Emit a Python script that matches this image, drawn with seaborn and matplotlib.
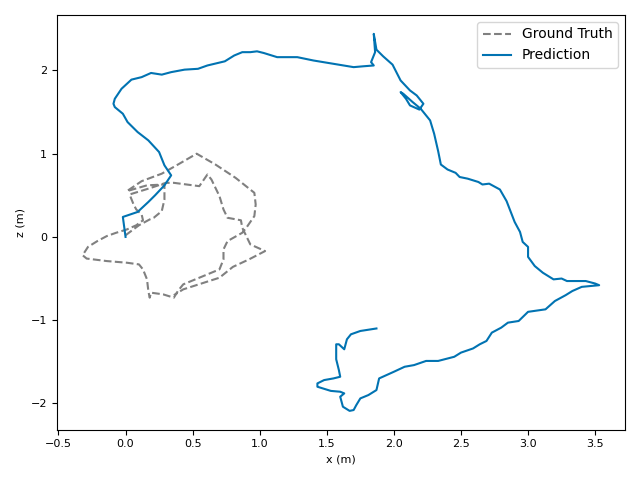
import matplotlib
matplotlib.use("Agg")
import matplotlib.pyplot as plt
import seaborn as sns
import pandas as pd

# ground truth trajectory (x, z) in metres
gt_x = [0.00, 0.10, 0.18, 0.21, 0.27, 0.29, 0.29, 0.16, 0.01, 0.12, 0.27, 0.38,
        0.53, 0.67, 0.82, 0.96, 0.97, 0.96, 0.90, 0.87, 0.76, 0.73, 0.73, 0.70,
        0.43, 0.39, 0.36, 0.28, 0.19, 0.18, 0.17, 0.16, 0.13, 0.10, 0.01, -0.14,
        -0.29, -0.32, -0.28, -0.21, -0.14, -0.07, 0.01, 0.08, 0.13, 0.12, 0.08,
        0.06, 0.03, 0.19, 0.30, 0.36, 0.55, 0.61, 0.64, 0.70, 0.73, 0.76, 0.86,
        0.87, 0.90, 0.93, 1.04, 0.92, 0.80, 0.70, 0.43, 0.36]
gt_z = [0.02, 0.14, 0.21, 0.23, 0.31, 0.45, 0.63, 0.62, 0.55, 0.67, 0.76, 0.86,
        1.00, 0.87, 0.71, 0.53, 0.39, 0.25, 0.11, 0.05, -0.05, -0.15, -0.27, -0.39,
        -0.57, -0.65, -0.73, -0.69, -0.67, -0.73, -0.65, -0.51, -0.39, -0.33, -0.31, -0.29,
        -0.26, -0.22, -0.12, -0.05, 0.01, 0.05, 0.09, 0.14, 0.20, 0.27, 0.33,
        0.39, 0.51, 0.59, 0.65, 0.65, 0.61, 0.75, 0.69, 0.49, 0.33, 0.23, 0.20,
        0.11, 0.01, -0.09, -0.17, -0.27, -0.36, -0.49, -0.63, -0.70]

# predicted trajectory (x, z) in metres
pred_x = [0.00, -0.02, 0.09, 0.17, 0.22, 0.29, 0.34, 0.29, 0.25, 0.17, 0.09, 0.015,
          -0.02, -0.08, -0.09, -0.08, -0.03, 0.044, 0.12, 0.19, 0.27, 0.34, 0.44,
          0.54, 0.61, 0.74, 0.81, 0.87, 0.93, 0.98, 1.03, 1.13, 1.28, 1.40, 1.55,
          1.70, 1.77, 1.85, 1.83, 1.86, 1.85, 1.87, 1.92, 1.99, 2.05, 2.12, 2.17,
          2.22, 2.19, 2.12, 2.09, 2.05, 2.07, 2.14, 2.20, 2.27, 2.30, 2.33, 2.35,
          2.40, 2.46, 2.49, 2.55, 2.63, 2.66, 2.71, 2.79, 2.84, 2.90, 2.94, 2.96,
          3.00, 3.00, 3.05, 3.11, 3.19, 3.25, 3.29, 3.43, 3.50, 3.53, 3.40, 3.33,
          3.28, 3.20, 3.13, 3.00, 2.93, 2.85, 2.80, 2.73, 2.69, 2.64, 2.59, 2.50,
          2.45, 2.33, 2.24, 2.15, 2.08, 2.00, 1.89, 1.87, 1.81, 1.75, 1.72, 1.70,
          1.67, 1.62, 1.60, 1.63, 1.60, 1.53, 1.43, 1.43, 1.48, 1.55, 1.60, 1.59,
          1.57, 1.57, 1.59, 1.63, 1.65, 1.68, 1.75, 1.83, 1.87]
pred_z = [0.00, 0.24, 0.30, 0.42, 0.50, 0.62, 0.74, 0.86, 1.02, 1.16, 1.26, 1.38,
          1.48, 1.56, 1.60, 1.66, 1.78, 1.89, 1.92, 1.97, 1.95, 1.98, 2.01,
          2.02, 2.06, 2.11, 2.18, 2.22, 2.22, 2.23, 2.21, 2.16, 2.16, 2.12, 2.08,
          2.04, 2.05, 2.06, 2.10, 2.22, 2.44, 2.25, 2.17, 2.07, 1.88, 1.76, 1.70,
          1.60, 1.53, 1.58, 1.66, 1.74, 1.72, 1.62, 1.54, 1.40, 1.24, 1.03, 0.87,
          0.81, 0.77, 0.72, 0.70, 0.66, 0.63, 0.64, 0.57, 0.43, 0.18, 0.06, -0.06,
          -0.12, -0.24, -0.35, -0.43, -0.51, -0.50, -0.53, -0.53, -0.56, -0.58, -0.60, -0.65,
          -0.70, -0.77, -0.87, -0.90, -1.01, -1.03, -1.09, -1.15, -1.25, -1.29, -1.34, -1.39,
          -1.44, -1.49, -1.49, -1.54, -1.56, -1.62, -1.70, -1.84, -1.90, -1.94, -2.02, -2.08,
          -2.09, -2.04, -1.92, -1.88, -1.86, -1.85, -1.80, -1.76, -1.72, -1.70, -1.68, -1.60,
          -1.47, -1.29, -1.29, -1.35, -1.23, -1.17, -1.13, -1.11, -1.10]

gt = pd.DataFrame({"x": gt_x, "z": gt_z})
pred = pd.DataFrame({"x": pred_x, "z": pred_z})

fig, ax = plt.subplots(figsize=(6.4, 4.8), dpi=100)
sns.lineplot(data=gt, x="x", y="z", sort=False, estimator=None, ax=ax,
             color="gray", linestyle="--", linewidth=1.5, label="Ground Truth")
sns.lineplot(data=pred, x="x", y="z", sort=False, estimator=None, ax=ax,
             color="#0173b2", linewidth=1.5, label="Prediction")

ax.set_xlabel("x (m)", fontsize=8)
ax.set_ylabel("z (m)", fontsize=8)
ax.tick_params(labelsize=8)
ax.legend(loc="upper right", fontsize=10)

plt.tight_layout()
plt.savefig("out.png")
